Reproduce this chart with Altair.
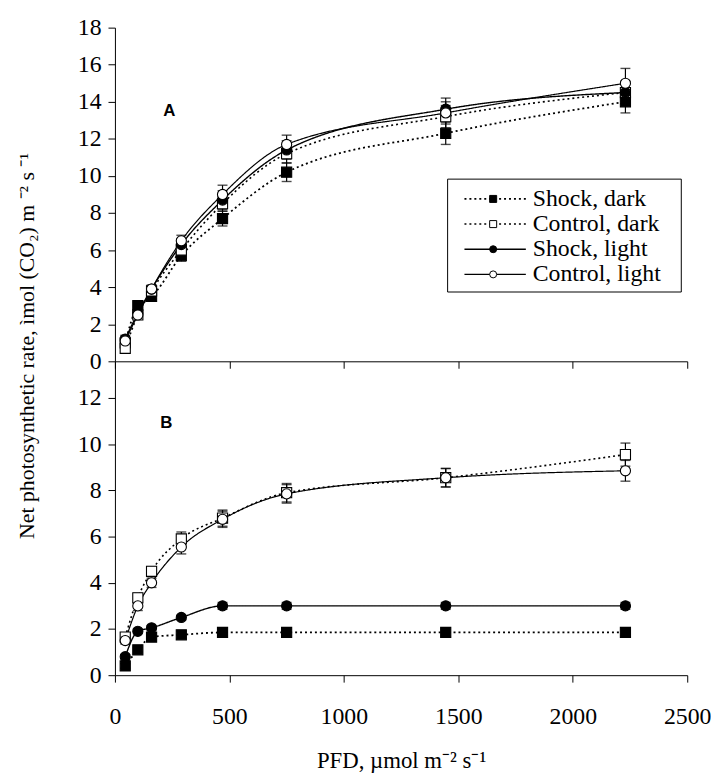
import altair as alt
import pandas as pd

PFD = [45, 100, 160, 290, 470, 750, 1445, 2230]
SERIES = ["Shock, dark", "Control, dark", "Shock, light", "Control, light"]

# Panel A values and standard errors
A_SHOCK_DARK = [1.0, 3.0, 3.5, 5.7, 7.7, 10.2, 12.3, 14.0]
A_CONTROL_DARK = [0.7, 2.5, 3.8, 6.0, 8.5, 11.2, 13.2, 14.5]
A_SHOCK_LIGHT = [1.2, 2.6, 3.9, 6.3, 8.7, 11.4, 13.6, 14.5]
A_CONTROL_LIGHT = [1.1, 2.5, 3.9, 6.5, 9.0, 11.7, 13.4, 15.0]
A_ERR_SHOCK_DARK = [0.2, 0.2, 0.2, 0.3, 0.4, 0.5, 0.6, 0.6]
A_ERR_CONTROL_DARK = [0.2, 0.2, 0.2, 0.3, 0.4, 0.5, 0.6, 0.6]
A_ERR_SHOCK_LIGHT = [0.2, 0.2, 0.2, 0.3, 0.5, 0.5, 0.6, 0.6]
A_ERR_CONTROL_LIGHT = [0.2, 0.2, 0.2, 0.3, 0.5, 0.5, 0.6, 0.8]

# Panel B values and standard errors
B_SHOCK_DARK = [0.4, 1.1, 1.65, 1.75, 1.85, 1.85, 1.85, 1.85]
B_CONTROL_DARK = [1.65, 3.35, 4.5, 5.9, 6.8, 7.9, 8.55, 9.55]
B_SHOCK_LIGHT = [0.8, 1.9, 2.05, 2.5, 3.0, 3.0, 3.0, 3.0]
B_CONTROL_LIGHT = [1.5, 3.0, 4.0, 5.55, 6.75, 7.85, 8.55, 8.85]
B_ERR_SHOCK_DARK = [0.1, 0.1, 0.15, 0.15, 0.15, 0.15, 0.15, 0.15]
B_ERR_CONTROL_DARK = [0.15, 0.2, 0.2, 0.3, 0.35, 0.4, 0.4, 0.5]
B_ERR_SHOCK_LIGHT = [0.1, 0.1, 0.1, 0.1, 0.15, 0.15, 0.15, 0.15]
B_ERR_CONTROL_LIGHT = [0.15, 0.2, 0.2, 0.3, 0.35, 0.4, 0.4, 0.45]

PANEL_LABELS = ["A", "B"]
X_TICKS = [0, 500, 1000, 1500, 2000, 2500]
A_TICKS = [0, 2, 4, 6, 8, 10, 12, 14, 16, 18]
B_TICKS = [0, 2, 4, 6, 8, 10, 12]

Y_TITLE = "Net photosynthetic rate,  ìmol  (CO₂)  m ⁻²  s ⁻¹"
X_TITLE = "PFD, µmol m⁻² s⁻¹"

SERIF = "Liberation Serif, Times New Roman, serif"
W = 578
HA = 337
HB = 317


def panel_df(vals, errs):
    rows = []
    for s, v_list, e_list in zip(SERIES, vals, errs):
        for x, v, e in zip(PFD, v_list, e_list):
            rows.append({"pfd": x, "series": s, "rate": v, "lo": v - e, "hi": v + e})
    return pd.DataFrame(rows)


dfA = panel_df([A_SHOCK_DARK, A_CONTROL_DARK, A_SHOCK_LIGHT, A_CONTROL_LIGHT],
               [A_ERR_SHOCK_DARK, A_ERR_CONTROL_DARK, A_ERR_SHOCK_LIGHT, A_ERR_CONTROL_LIGHT])
dfB = panel_df([B_SHOCK_DARK, B_CONTROL_DARK, B_SHOCK_LIGHT, B_CONTROL_LIGHT],
               [B_ERR_SHOCK_DARK, B_ERR_CONTROL_DARK, B_ERR_SHOCK_LIGHT, B_ERR_CONTROL_LIGHT])

dash_enc = alt.StrokeDash("series:N", scale=alt.Scale(domain=SERIES, range=[[2, 3], [2, 3], [1, 0], [1, 0]]), legend=None)
sw_enc = alt.StrokeWidth("series:N", scale=alt.Scale(domain=SERIES, range=[1.8, 1.2, 1.3, 1.0]), legend=None)
shape_enc = alt.Shape("series:N", scale=alt.Scale(domain=SERIES, range=["square", "square", "circle", "circle"]), legend=None)
fill_enc = alt.Fill("series:N", scale=alt.Scale(domain=SERIES, range=["black", "white", "black", "white"]), legend=None)
size_enc = alt.Size("series:N", scale=alt.Scale(domain=SERIES, range=[105, 105, 95, 95]), legend=None)

x_scale = alt.Scale(domain=[0, 2500], nice=False)


def panel(df, ydomain, yticks, height, label, label_pos, bottom, y_title):
    x_axis = alt.Axis(values=X_TICKS, labels=bottom, format="d",
                      title=X_TITLE if bottom else None)
    if y_title:
        y_axis = alt.Axis(values=yticks, format="d", title=Y_TITLE, titleY=321)
    else:
        y_axis = alt.Axis(values=yticks, format="d", title=None)

    X = alt.X("pfd:Q", scale=x_scale, axis=x_axis)
    ysc = alt.Scale(domain=ydomain, nice=False, zero=True)
    Y = alt.Y("rate:Q", scale=ysc, axis=y_axis)

    base = alt.Chart(df)
    lines = base.mark_line(interpolate="monotone", color="black").encode(
        x=X, y=Y, detail="series:N", strokeDash=dash_enc, strokeWidth=sw_enc)
    err = base.mark_rule(color="black", strokeWidth=1.2).encode(
        x=X, y=alt.Y("lo:Q", scale=ysc, axis=y_axis), y2="hi:Q")
    caps_hi = base.mark_tick(color="black", orient="horizontal", size=10, thickness=1.4).encode(
        x=X, y=alt.Y("hi:Q", scale=ysc, axis=y_axis))
    caps_lo = base.mark_tick(color="black", orient="horizontal", size=10, thickness=1.4).encode(
        x=X, y=alt.Y("lo:Q", scale=ysc, axis=y_axis))
    pts = base.mark_point(filled=True, stroke="black", strokeWidth=1.1, opacity=1).encode(
        x=X, y=Y, shape=shape_enc, fill=fill_enc, size=size_enc)
    lab = alt.Chart(pd.DataFrame({"t": [label]})).mark_text(
        font="Liberation Sans", fontWeight="bold", fontSize=17, color="black").encode(
        text="t:N", x=alt.value(label_pos[0]), y=alt.value(label_pos[1]))
    return alt.layer(lines, err, caps_hi, caps_lo, pts, lab)


chartA = panel(dfA, [0, 18], A_TICKS, HA, PANEL_LABELS[0], (55, 84), False, True)
chartB = panel(dfB, [0, 13.59], B_TICKS, HB, PANEL_LABELS[1], (52, 62), True, False).properties(width=W, height=HB)

# Legend inside panel A
LEG_TOP = 153
LEG_ROW = 25.4
leg_df = pd.DataFrame({"series": SERIES, "ly": [LEG_TOP + 20 + i * LEG_ROW for i in range(len(SERIES))]})
leg_base = alt.Chart(leg_df)
leg_box = alt.Chart(pd.DataFrame({"k": [0]})).mark_rect(fill="white", stroke="black", strokeWidth=1).encode(
    x=alt.value(336), x2=alt.value(572), y=alt.value(LEG_TOP), y2=alt.value(LEG_TOP + 114))
leg_lines = leg_base.mark_rule(color="black").encode(
    x=alt.value(353), x2=alt.value(415), y=alt.Y("ly:Q", scale=None), strokeDash=dash_enc, strokeWidth=sw_enc)
leg_pts = leg_base.mark_point(filled=True, stroke="black", strokeWidth=1, size=50, opacity=1).encode(
    x=alt.value(382), y=alt.Y("ly:Q", scale=None), shape=shape_enc, fill=fill_enc)
leg_text = leg_base.mark_text(align="left", baseline="middle", font=SERIF, fontSize=24, color="black").encode(
    x=alt.value(422), y=alt.Y("ly:Q", scale=None), text="series:N")

chartA = alt.layer(chartA, leg_box, leg_lines, leg_pts, leg_text).properties(width=W, height=HA)

chart = alt.vconcat(chartA, chartB, spacing=0, bounds="flush").configure_view(
    stroke=None
).configure_axis(
    grid=False, tickSize=7, domainColor="black", tickColor="black", domainWidth=1, tickWidth=1,
    labelFont=SERIF, labelFontSize=24, labelColor="black", labelPadding=7, labelOverlap=False,
    labelFlush=False,
    titleFont=SERIF, titleFontWeight="normal", titleColor="black",
).configure_axisY(
    titlePadding=39, titleFontSize=22
).configure_axisX(
    labelPadding=23, titlePadding=21, titleFontSize=23
).properties(
    padding={"left": 8, "top": 4, "right": 0, "bottom": 2}
)

chart.save("out.html", embed_options={"renderer": "svg", "actions": False})
